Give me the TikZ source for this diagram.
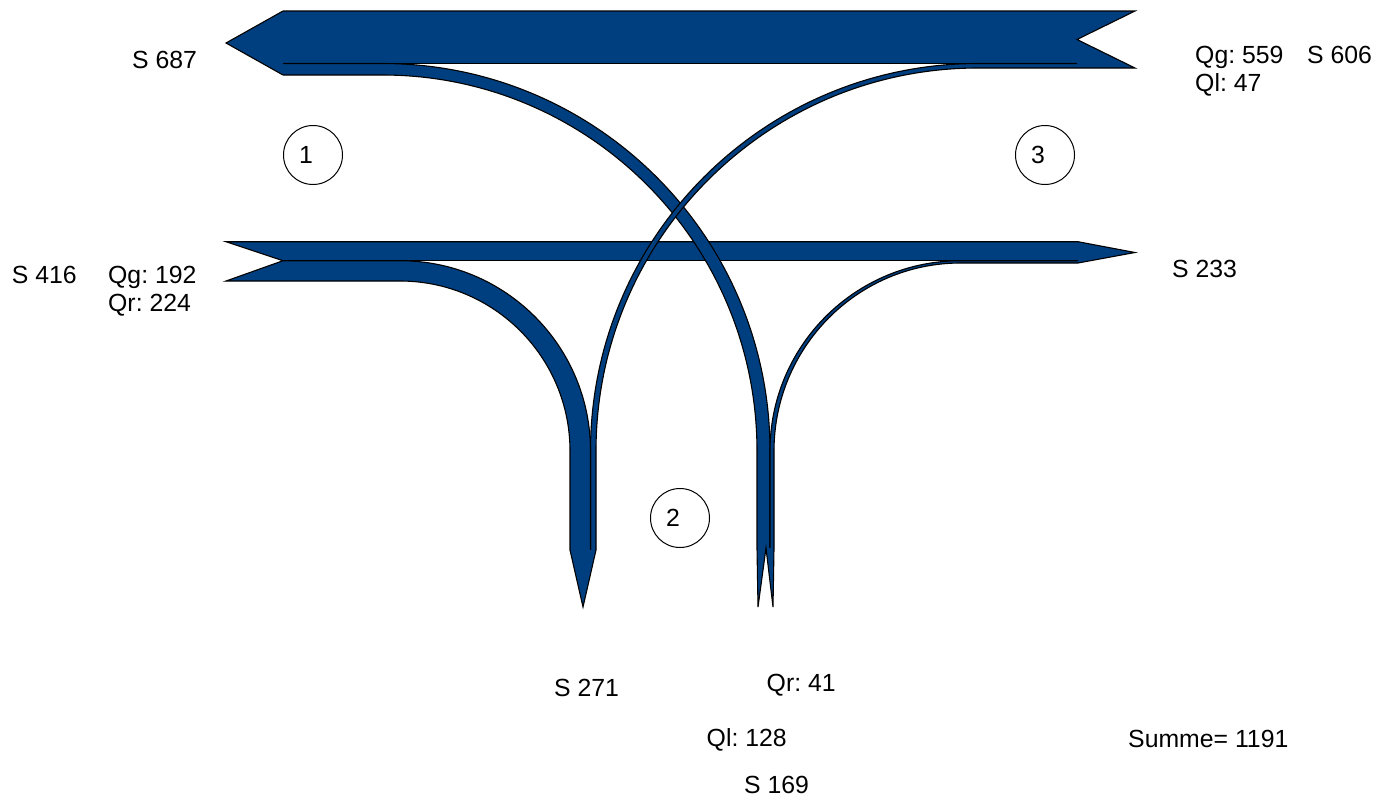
\documentclass[tikz,border=0pt]{standalone}
\usepackage{fontspec}
\setmainfont{Liberation Sans}
\definecolor{flow}{RGB}{0,63,127}
\frenchspacing
\begin{document}
\begin{tikzpicture}[x=1pt,y=-1pt,
  edge/.style={draw=black,line width=1.1pt,line join=miter},
  lbl/.style={anchor=base west,inner sep=0pt,font=\fontsize{24.8}{29}\selectfont},
  numtxt/.style={anchor=center,inner sep=0pt,font=\fontsize{24.8}{29}\selectfont},
  junction/.style={circle,draw=black,line width=1pt,minimum size=59pt,inner sep=0pt}]
\useasboundingbox (0,0) rectangle (1392,796);
% ---- top horizontal band (east -> west)
\fill[flow] (283,11) rectangle (1077,63.5);
\fill[flow] (283,11) -- (226,43) -- (283,75) -- cycle;
\fill[flow] (1077,11) -- (1135,11) -- (1077,39.5) -- (1135,68) -- (1077,68) -- cycle;
\draw[edge] (283,11) -- (1135,11) -- (1077,39.5) -- (1135,68) -- (1077,68);
\draw[edge] (283,11) -- (226,43) -- (283,75);
\draw[edge] (283,63.5) -- (1077,63.5);
% ---- lower horizontal band (west -> east)
\fill[flow] (283,241.7) rectangle (1078,260.7);
\fill[flow] (283,241.7) -- (226,241.7) -- (283,260.7) -- (226,281) -- (283,281) -- cycle;
\fill[flow] (1078,241.7) -- (1135,252.5) -- (1078,263) -- cycle;
\draw[edge] (283,281) -- (226,281) -- (283,260.7) -- (226,241.7) -- (1078,241.7) -- (1135,252.5) -- (1078,263);
\draw[edge] (283,260.7) -- (1078,260.7);
% ---- curve B: south -> west (Ql 128)
\fill[flow] (283,63.5) -- (382.5,63.5) .. controls (596.5,63.5) and (770,237) .. (770,451) -- (770,548)
  -- (757,548) -- (757,451) .. controls (757,243.3) and (589.3,75) .. (382.5,75) -- (283,75) -- cycle;
\draw[edge] (283,63.5) -- (382.5,63.5) .. controls (596.5,63.5) and (770,237) .. (770,451) -- (770,548);
\draw[edge] (283,75) -- (382.5,75) .. controls (589.3,75) and (757,243.3) .. (757,451) -- (757,548);
% ---- curve D: south -> east (Qr 41)
\fill[flow] (1078,260.7) -- (960.5,260.7) .. controls (855.3,260.7) and (770,345.8) .. (770,451) -- (770,548)
  -- (774,548) -- (774,451) .. controls (774,347.2) and (857.5,263) .. (960.5,263) -- (1078,263) -- cycle;
\draw[edge] (1078,260.7) -- (960.5,260.7) .. controls (855.3,260.7) and (770,345.8) .. (770,451) -- (770,548);
\draw[edge] (1078,263) -- (960.5,263) .. controls (857.5,263) and (774,347.2) .. (774,451) -- (774,548);
% ---- curve C: east -> south (Ql 47)
\fill[flow] (1077,63.5) -- (978,63.5) .. controls (764,63.5) and (590.5,237) .. (590.5,451) -- (590.5,550)
  -- (596,550) -- (596,451) .. controls (596,239.5) and (767,68) .. (978,68) -- (1077,68) -- cycle;
\draw[edge] (1077,63.5) -- (978,63.5) .. controls (764,63.5) and (590.5,237) .. (590.5,451) -- (590.5,550);
\draw[edge] (1077,68) -- (978,68) .. controls (767,68) and (596,239.5) .. (596,451) -- (596,550);
% ---- curve A: west -> south (Qr 224)
\fill[flow] (283,260.7) -- (400,260.7) .. controls (505.2,260.7) and (590.5,345.9) .. (590.5,451) -- (590.5,550)
  -- (570,550) -- (570,451) .. controls (570,357.1) and (493.9,281) .. (400,281) -- (283,281) -- cycle;
\draw[edge] (283,260.7) -- (400,260.7) .. controls (505.2,260.7) and (590.5,345.9) .. (590.5,451) -- (590.5,550);
\draw[edge] (283,281) -- (400,281) .. controls (493.9,281) and (570,357.1) .. (570,451) -- (570,550);
% ---- bottom arrow (S 271) and bottom notch (S 169)
\fill[flow] (570,550) -- (583,607) -- (596,550) -- cycle;
\draw[edge] (570,550) -- (583,607) -- (596,550);
\fill[flow] (757,548) -- (758,607) -- (766,548) -- (773,607) -- (774,548) -- cycle;
\draw[edge] (757,548) -- (758,607) -- (766,548) -- (773,607) -- (774,548);
% ---- junction circles
\node[junction] (c1) at (313,155) {};
\node[numtxt] (n1) at (306,155) {1};
\node[junction] (c2) at (680,518) {};
\node[numtxt] (n2) at (673,518) {2};
\node[junction] (c3) at (1045,155) {};
\node[numtxt] (n3) at (1038,155) {3};
% ---- labels
\node[lbl] (s687) at (132,68) {S 687};
\node[lbl] (qg559) at (1195,63) {Qg: 559};
\node[lbl] (s606) at (1307,63) {S 606};
\node[lbl] (ql47) at (1195,91) {Ql: 47};
\node[lbl] (s416) at (11.7,283) {S 416};
\node[lbl] (qg192) at (108,283) {Qg: 192};
\node[lbl] (qr224) at (108,311.5) {Qr: 224};
\node[lbl] (s233) at (1172,277) {S 233};
\node[lbl] (s271) at (554,696) {S 271};
\node[lbl] (qr41) at (766.5,691.5) {Qr: 41};
\node[lbl] (ql128) at (706.5,746) {Ql: 128};
\node[lbl] (s169) at (744,793) {S 169};
\node[lbl] (summe) at (1128,747) {Summe= 1191};
\end{tikzpicture}
\end{document}
